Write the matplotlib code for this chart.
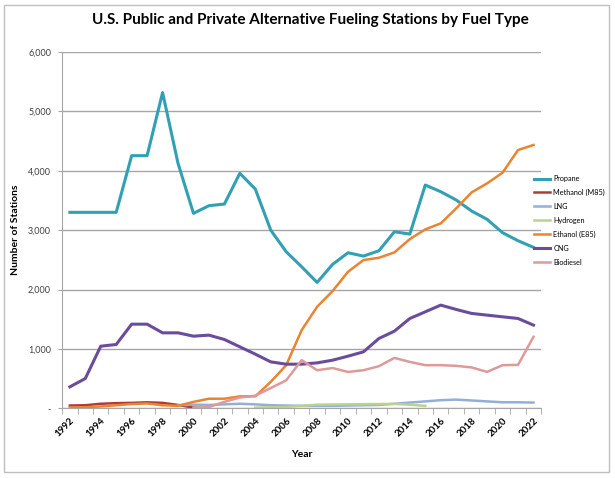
import numpy as np
import matplotlib.pyplot as plt
from matplotlib.patches import Rectangle

plt.rcParams['font.family'] = ['Lato', 'DejaVu Sans']

years = np.arange(1992, 2023)
nan = np.nan

propane = [3300, 3300, 3300, 3300, 4255, 4255, 5318, 4126, 3283, 3412,
           3440, 3958, 3693, 3000, 2636, 2383, 2119, 2423, 2619, 2563,
           2653, 2973, 2934, 3760, 3648, 3508, 3322, 3182, 2957, 2822, 2710]
methanol = [45, 50, 75, 85, 90, 100, 90, 55, 10, 0,
            nan, nan, nan, nan, nan, nan, nan, nan, nan, nan,
            nan, nan, nan, nan, nan, nan, nan, nan, nan, nan, nan]
lng = [nan, nan, nan, nan, nan, nan, nan, 50, 60, 55,
       65, 75, 65, 50, 45, 40, 40, 40, 45, 50,
       55, 75, 95, 115, 135, 145, 130, 115, 100, 100, 95]
hydrogen = [nan, nan, nan, nan, nan, nan, nan, nan, nan, nan,
            nan, nan, 10, 15, 22, 40, 60, 62, 65, 68,
            70, 72, 60, 39, nan, nan, nan, nan, nan, nan, nan]
ethanol = [10, 15, 30, 50, 70, 80, 50, 40, 107, 160,
           160, 200, 200, 444, 725, 1315, 1709, 1973, 2299, 2496,
           2535, 2625, 2850, 3013, 3114, 3367, 3637, 3789, 3968, 4350, 4435]
cng = [360, 500, 1045, 1074, 1416, 1416, 1270, 1270, 1214, 1231,
       1158, 1034, 911, 781, 742, 742, 764, 809, 877, 950,
       1175, 1298, 1512, 1624, 1737, 1664, 1597, 1568, 1540, 1512, 1400]
biodiesel = [nan, nan, nan, nan, nan, nan, nan, nan, 5, 20,
             107, 180, 210, 340, 470, 810, 640, 677, 611, 640,
             708, 848, 780, 725, 725, 714, 687, 612, 725, 730, 1203]

series = [
    ('Propane', propane, '#31A0B5', 2.2),
    ('Methanol (M85)', methanol, '#B23A36', 1.8),
    ('LNG', lng, '#93AEDB', 1.8),
    ('Hydrogen', hydrogen, '#B9D38A', 1.8),
    ('Ethanol (E85)', ethanol, '#EB8430', 1.8),
    ('CNG', cng, '#6A4C9C', 2.2),
    ('Biodiesel', biodiesel, '#DE9A99', 1.8),
]

fig = plt.figure(figsize=(6.15, 4.78), dpi=100)
ax = fig.add_axes([0.101, 0.146, 0.779, 0.745])

for name, vals, col, lw in series:
    ax.plot(years, vals, color=col, lw=lw, label=name, solid_joinstyle='round')

ax.set_xlim(1991.5, 2022.5)
ax.set_ylim(0, 6000)
ax.set_yticks(np.arange(0, 6001, 1000))
ax.set_yticklabels(['-'] + ['{:,}'.format(v) for v in range(1000, 6001, 1000)],
                   fontsize=6.5, color='#404040')
ax.yaxis.grid(True, color='#A6A6A6', lw=1)
ax.set_axisbelow(True)
ax.tick_params(axis='y', length=3, color='#A6A6A6', pad=5)

ax.set_xticks(years[::2])
ax.set_xticklabels([str(y) for y in years[::2]], rotation=45, ha='right',
                   rotation_mode='anchor', fontsize=7, fontweight='bold')
ax.set_xticks(np.arange(1991.5, 2023, 1), minor=True)
ax.tick_params(axis='x', which='major', length=0, pad=6)
ax.tick_params(axis='x', which='minor', length=4, color='#A6A6A6')

for s in ['top', 'right']:
    ax.spines[s].set_visible(False)
for s in ['left', 'bottom']:
    ax.spines[s].set_color('#A6A6A6')

ax.set_xlabel('Year', fontsize=7.5, fontweight='bold', labelpad=8)
ax.set_ylabel('Number of Stations', fontsize=7.5, fontweight='bold', labelpad=6)
fig.suptitle('U.S. Public and Private Alternative Fueling Stations by Fuel Type',
             fontsize=11, fontweight='bold', y=0.972, x=0.505)

handles, labels = ax.get_legend_handles_labels()
fig.legend(handles, labels, loc='center left', bbox_to_anchor=(0.868, 0.539),
           frameon=False, fontsize=5.2, handlelength=2.3, labelspacing=0.95,
           handletextpad=0.4, borderpad=0, borderaxespad=0)

fig.add_artist(Rectangle((0.006, 0.012), 0.984, 0.977, transform=fig.transFigure,
                         fill=False, edgecolor='#BFBFBF', lw=1))

fig.savefig('out.png', dpi=100)
